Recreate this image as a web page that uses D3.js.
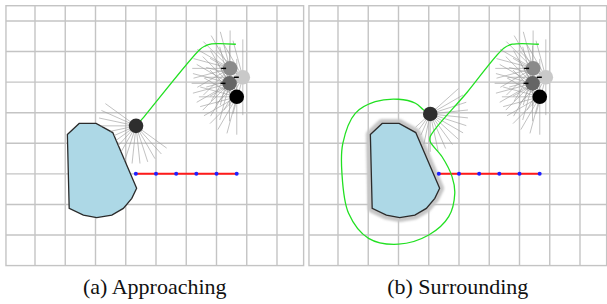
<!DOCTYPE html>
<html>
<head>
<meta charset="utf-8">
<script src="https://cdn.jsdelivr.net/npm/d3@7"></script>
<style>
  body { margin: 0; background: #fff; }
  svg { display: block; }
</style>
</head>
<body>
<svg id="chart" width="607" height="304"></svg>
<script>
// world units = grid cells
const gridXs = [0, 1, 2, 3, 4, 5, 6, 7, 8];
const gridYs = [0, 1, 2, 3, 4, 5, 6, 7];

const obstacle = [
  [1.07, 3.71], [1.46, 3.35], [2.02, 3.35], [2.57, 3.65], [3.36, 5.47],
  [3.20, 5.80], [2.92, 6.13], [2.54, 6.35], [2.04, 6.43], [1.60, 6.35], [1.13, 6.13]
];

// planned line and its waypoints
const lineY = 5;
const waypointXs = [10 / 3, 4, 14 / 3, 16 / 3, 6, 20 / 3];

// the group of robots, top right
const groupRobots = [
  {x: 6.45, y: 1.55, fill: '#8a8a8a', tick: true},
  {x: 6.87, y: 1.84, fill: '#c9c9c9', tick: true},
  {x: 6.43, y: 2.04, fill: '#656565', tick: true},
  {x: 6.67, y: 2.48, fill: '#000000', tick: false}
];
const groupRayAngles = [90, 105, 120, 135, 150, 165, 180, 195, 210, 225, 240, 255, 270];

// single robot, one per panel
const robotA = {x: 3.34, y: 3.43};
const robotB = {x: 3.05, y: 3.04};
const robotRayAnglesA = [36, 48, 60, 72, 84, 96, 108, 120, 132, 144, 156, 168, 180, 192, 204, 216];
const robotRayAnglesB = [-42, -30, -18, -6, 6, 18, 30, 42, 54, 66, 78, 90, 102, 114, 126, 138];

const pathA = [
  [3.34, 3.43], [3.53, 3.22], [5.45, 0.93], [5.62, 0.82], [5.84, 0.75], [6.12, 0.74], [6.64, 0.76]
];
const pathB = [
  [6.64, 0.76], [5.76, 0.76], [5.48, 0.89], [4.27, 2.33], [3.05, 3.78], [3.05, 3.95], [3.44, 4.44],
  [3.77, 5.09], [3.86, 5.64], [3.66, 6.40], [3.0, 7.0], [2.0, 7.30], [1.01, 7.11], [0.35, 6.29],
  [0.13, 4.98], [0.16, 4.0], [0.57, 3.02], [1.23, 2.64], [2.0, 2.56], [2.56, 2.69], [2.83, 2.91], [3.05, 3.04]
];

const captions = ['(a) Approaching', '(b) Surrounding'];

const svg = d3.select('#chart');
const defs = svg.append('defs');
defs.append('filter').attr('id', 'blur').append('feGaussianBlur').attr('stdDeviation', 0.9);

const y = d3.scaleLinear().domain([0, 7]).range([21, 235]);
const rayLen = 1.25;     // in cells
const robotR = 7.3;      // px

function segHit(px, py, dx, dy, ax, ay, bx, by) {
  const ex = bx - ax, ey = by - ay;
  const den = dx * ey - dy * ex;
  if (Math.abs(den) < 1e-9) return null;
  const t = ((ax - px) * ey - (ay - py) * ex) / den;
  const u = ((ax - px) * dy - (ay - py) * dx) / den;
  if (t >= 0 && t <= 1 && u >= 0 && u <= 1) return t;
  return null;
}

function drawPanel(idx, x0, robot, rayAngles, path, halo) {
  const x = d3.scaleLinear().domain([0, 8]).range([x0, x0 + 242]);
  const g = svg.append('g');
  const left = x(-0.96), right = x(8.88), top = y(-0.5), bottom = y(8);

  g.append('rect')
    .attr('x', left).attr('y', top)
    .attr('width', right - left).attr('height', bottom - top)
    .attr('fill', '#fff').attr('stroke', '#c4c4c4').attr('stroke-width', 1.4);

  g.selectAll('.gx').data(gridXs).join('line')
    .attr('x1', d => x(d)).attr('x2', d => x(d))
    .attr('y1', top).attr('y2', bottom)
    .attr('stroke', '#c4c4c4').attr('stroke-width', 1.4);
  g.selectAll('.gy').data(gridYs).join('line')
    .attr('x1', left).attr('x2', right)
    .attr('y1', d => y(d)).attr('y2', d => y(d))
    .attr('stroke', '#c4c4c4').attr('stroke-width', 1.4);

  const polyPx = obstacle.map(p => [x(p[0]), y(p[1])]);
  const line = d3.line();

  if (halo) {
    g.append('path')
      .attr('d', line(polyPx) + 'Z')
      .attr('fill', '#c6c6c6').attr('stroke', '#c6c6c6')
      .attr('stroke-width', 9).attr('stroke-linejoin', 'round')
      .attr('filter', 'url(#blur)');
  }

  g.append('path')
    .attr('d', line(polyPx) + 'Z')
    .attr('fill', '#add8e6').attr('stroke', '#2b2b2b').attr('stroke-width', 1.3);

  // lidar rays, cut where they meet the obstacle
  const margin = halo ? 5 : 0;
  const rays = [];
  const addRays = (rx, ry, angles) => {
    const cx = x(rx), cy = y(ry), L = rayLen * 30.3;
    angles.forEach(a => {
      const dx = Math.cos(a * Math.PI / 180) * L, dy = Math.sin(a * Math.PI / 180) * L;
      let t = 1;
      for (let i = 0; i < polyPx.length; i++) {
        const A = polyPx[i], B = polyPx[(i + 1) % polyPx.length];
        const h = segHit(cx, cy, dx, dy, A[0], A[1], B[0], B[1]);
        if (h !== null && h < t) t = h;
      }
      if (t < 1) t = Math.max(0, t - margin / L);
      rays.push([cx, cy, cx + dx * t, cy + dy * t]);
    });
  };
  addRays(robot.x, robot.y, rayAngles);
  groupRobots.forEach(r => addRays(r.x, r.y, groupRayAngles));

  g.selectAll('.ray').data(rays).join('line')
    .attr('x1', d => d[0]).attr('y1', d => d[1])
    .attr('x2', d => d[2]).attr('y2', d => d[3])
    .attr('stroke', '#999').attr('stroke-opacity', 0.6).attr('stroke-width', 1);

  // planned line
  g.append('line')
    .attr('x1', x(waypointXs[0])).attr('x2', x(waypointXs[waypointXs.length - 1]))
    .attr('y1', y(lineY)).attr('y2', y(lineY))
    .attr('stroke', '#ff1a1a').attr('stroke-width', 2);
  g.selectAll('.wp').data(waypointXs).join('circle')
    .attr('cx', d => x(d)).attr('cy', y(lineY)).attr('r', 2)
    .attr('fill', '#2020ff');

  // trajectory
  g.append('path')
    .attr('d', d3.line().x(d => x(d[0])).y(d => y(d[1])).curve(d3.curveCatmullRom.alpha(0.5))(path))
    .attr('fill', 'none').attr('stroke', '#22e022').attr('stroke-width', 1.3);

  // robots
  g.append('circle')
    .attr('cx', x(robot.x)).attr('cy', y(robot.y)).attr('r', robotR)
    .attr('fill', '#2e2e2e');
  g.selectAll('.gr').data(groupRobots).join('circle')
    .attr('cx', d => x(d.x)).attr('cy', d => y(d.y)).attr('r', robotR)
    .attr('fill', d => d.fill);
  g.selectAll('.tick').data(groupRobots.filter(d => d.tick)).join('line')
    .attr('x1', d => x(d.x) - 9).attr('x2', d => x(d.x) - 4)
    .attr('y1', d => y(d.y)).attr('y2', d => y(d.y))
    .attr('stroke', '#000').attr('stroke-width', 1.5);

  svg.append('text')
    .attr('x', (left + right) / 2)
    .attr('y', 294)
    .attr('text-anchor', 'middle')
    .attr('font-family', "'Liberation Serif', 'Times New Roman', serif")
    .attr('font-size', 22)
    .attr('fill', '#111')
    .text(captions[idx]);
}

drawPanel(0, 35, robotA, robotRayAnglesA, pathA, false);
drawPanel(1, 338, robotB, robotRayAnglesB, pathB, true);
</script>
</body>
</html>
